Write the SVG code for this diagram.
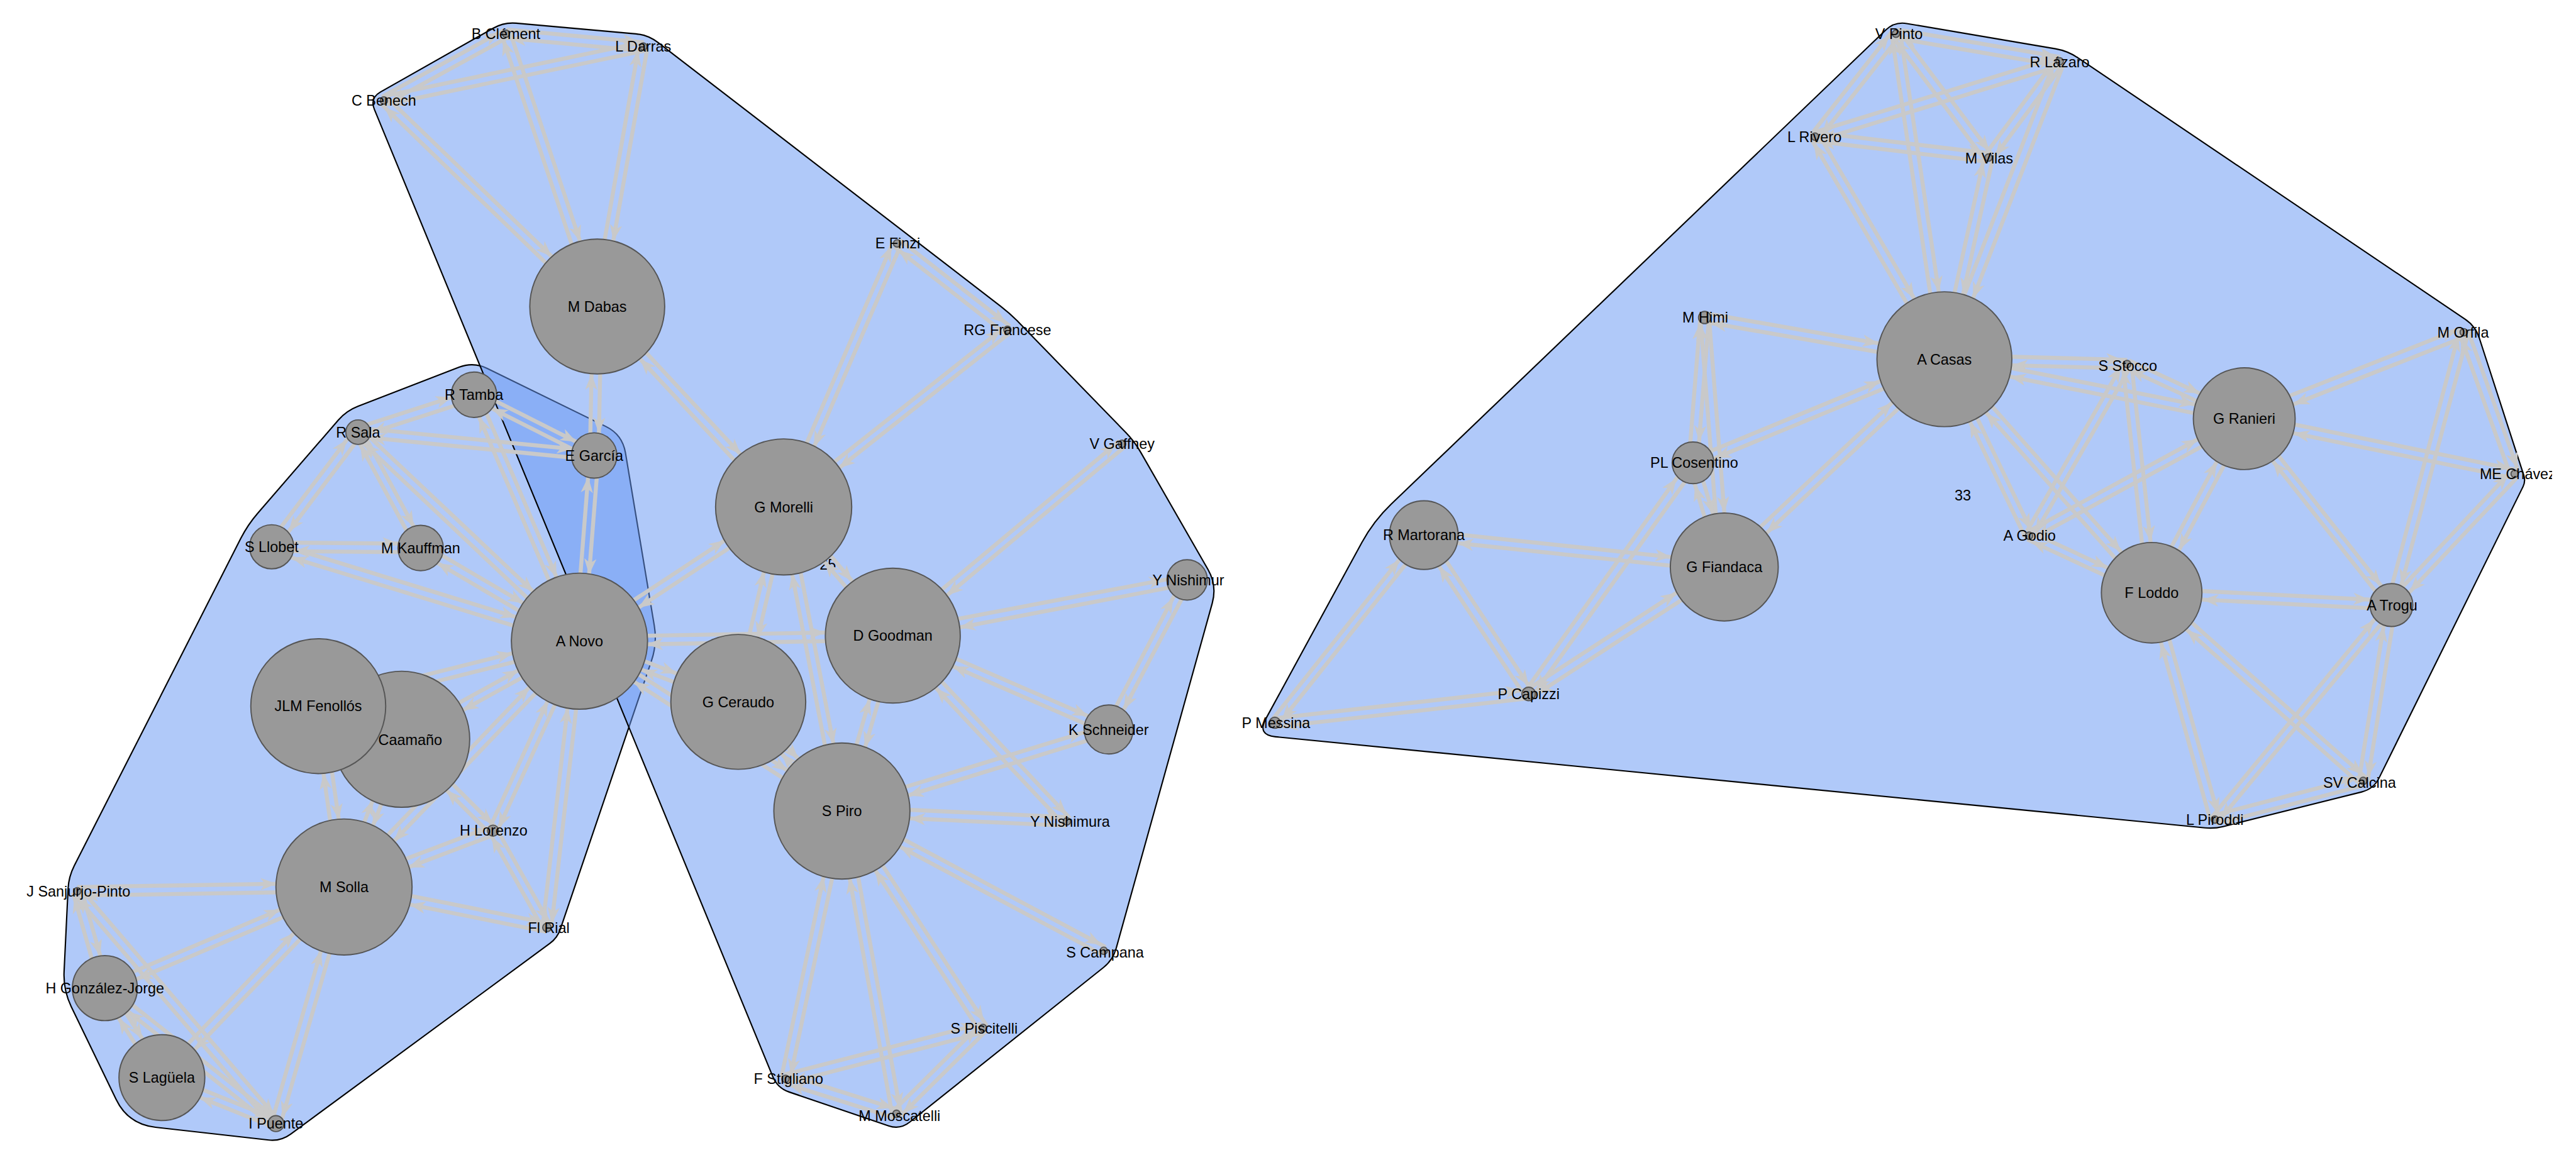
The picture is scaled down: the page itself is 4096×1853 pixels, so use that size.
<svg xmlns="http://www.w3.org/2000/svg" width="4096" height="1853" viewBox="0 0 4096 1853">
<style>
.hull{fill:rgb(103,151,243);fill-opacity:0.52;stroke:#000;stroke-width:2.2;stroke-linejoin:round}
.e path{stroke:#c9c9c9;stroke-width:6.5;fill:none}
.ah{fill:#c9c9c9;stroke:none}
.node circle{fill:#999999;stroke:#555555;stroke-width:2}
text{font-family:"Liberation Sans",Arial,sans-serif;font-size:24px;fill:#000;text-anchor:middle}
</style>
<defs>
<marker id="a8" markerUnits="userSpaceOnUse" orient="auto" refX="8" refY="0" markerWidth="1" markerHeight="1" overflow="visible"><path class="ah" d="M0,0 L-26,-10 L-19,0 L-26,10 Z"/></marker>
<marker id="a10" markerUnits="userSpaceOnUse" orient="auto" refX="11" refY="0" markerWidth="1" markerHeight="1" overflow="visible"><path class="ah" d="M0,0 L-26,-10 L-19,0 L-26,10 Z"/></marker>
<marker id="a13" markerUnits="userSpaceOnUse" orient="auto" refX="13" refY="0" markerWidth="1" markerHeight="1" overflow="visible"><path class="ah" d="M0,0 L-26,-10 L-19,0 L-26,10 Z"/></marker>
<marker id="a20" markerUnits="userSpaceOnUse" orient="auto" refX="20" refY="0" markerWidth="1" markerHeight="1" overflow="visible"><path class="ah" d="M0,0 L-26,-10 L-19,0 L-26,10 Z"/></marker>
<marker id="a35" markerUnits="userSpaceOnUse" orient="auto" refX="36" refY="0" markerWidth="1" markerHeight="1" overflow="visible"><path class="ah" d="M0,0 L-26,-10 L-19,0 L-26,10 Z"/></marker>
<marker id="a40" markerUnits="userSpaceOnUse" orient="auto" refX="40" refY="0" markerWidth="1" markerHeight="1" overflow="visible"><path class="ah" d="M0,0 L-26,-10 L-19,0 L-26,10 Z"/></marker>
<marker id="a53" markerUnits="userSpaceOnUse" orient="auto" refX="53" refY="0" markerWidth="1" markerHeight="1" overflow="visible"><path class="ah" d="M0,0 L-26,-10 L-19,0 L-26,10 Z"/></marker>
<marker id="a56" markerUnits="userSpaceOnUse" orient="auto" refX="56" refY="0" markerWidth="1" markerHeight="1" overflow="visible"><path class="ah" d="M0,0 L-26,-10 L-19,0 L-26,10 Z"/></marker>
<marker id="a70" markerUnits="userSpaceOnUse" orient="auto" refX="70" refY="0" markerWidth="1" markerHeight="1" overflow="visible"><path class="ah" d="M0,0 L-26,-10 L-19,0 L-26,10 Z"/></marker>
<marker id="a83" markerUnits="userSpaceOnUse" orient="auto" refX="83" refY="0" markerWidth="1" markerHeight="1" overflow="visible"><path class="ah" d="M0,0 L-26,-10 L-19,0 L-26,10 Z"/></marker>
<marker id="a88" markerUnits="userSpaceOnUse" orient="auto" refX="88" refY="0" markerWidth="1" markerHeight="1" overflow="visible"><path class="ah" d="M0,0 L-26,-10 L-19,0 L-26,10 Z"/></marker>
<marker id="a110" markerUnits="userSpaceOnUse" orient="auto" refX="110" refY="0" markerWidth="1" markerHeight="1" overflow="visible"><path class="ah" d="M0,0 L-26,-10 L-19,0 L-26,10 Z"/></marker>
<clipPath id="clipR"><rect x="0" y="0" width="4162" height="1899"/></clipPath>
</defs>
<rect x="0" y="0" width="4096" height="1853" fill="#ffffff"/>
<g transform="scale(0.975)">
<g id="hulls">
<path id="hull-lower-left" class="hull" d="M 794.5,601 L 988.1,695.8 Q 1015,709 1020,738.6 L 1067,1020.4 Q 1072,1050 1062.3,1078.4 L 913.8,1515.8 Q 909,1530 896.9,1538.9 L 474.1,1850.1 Q 458,1862 438.1,1859.8 L 253.7,1839 Q 209,1834 189.4,1793.5 L 116.1,1642 Q 103,1615 104.5,1585 L 111,1450 Q 112,1430 121.1,1412.2 L 392.7,878.3 Q 404,856 420.4,837.1 L 551.9,685.1 Q 565,670 583.7,662.8 L 748.7,599 Q 772,590 794.5,601 Z"/>
<path id="hull-middle" class="hull" d="M 841.9,37.8 L 1037.1,55.2 Q 1057,57 1072.8,69.2 L 1632.2,499.8 Q 1648,512 1661.9,526.3 L 1836.1,705.7 Q 1850,720 1860,737.3 L 1970,929 Q 1985,955 1977,984 L 1820.4,1546.7 Q 1815,1566 1799.4,1578.5 L 1483.6,1830.5 Q 1468,1843 1449.1,1836.6 L 1286.9,1781.4 Q 1268,1775 1260.4,1756.5 L 610.6,178.5 Q 603,160 620.4,150.1 L 804.6,45.9 Q 822,36 841.9,37.8 Z"/>
<path id="hull-right" class="hull" d="M 3109.7,38.4 L 3352.3,79.6 Q 3372,83 3388.6,94.2 L 4020.4,520.8 Q 4037,532 4043.2,551 L 4115.9,775.5 Q 4119,785 4114.6,794 L 3879.9,1269.1 Q 3871,1287 3851.6,1291.9 L 3625.6,1348.4 Q 3611,1352 3596.1,1350.5 L 2079.9,1201.9 Q 2050,1199 2064.3,1172.7 L 2220.9,885.1 Q 2240,850 2268.9,822.3 L 3075.6,48.8 Q 3090,35 3109.7,38.4 Z"/>
</g>
<g id="cluster-labels">
<text x="1350" y="929">25</text>
<text x="3201" y="816">33</text>
</g>
<g id="connectors" class="e">
<path d="M826,48 L1050,69" marker-end="url(#a8)"/><path d="M1048,83 L824,62" marker-end="url(#a8)"/>
<path d="M623,158 L822,49" marker-end="url(#a8)"/><path d="M828,61 L629,170" marker-end="url(#a8)"/>
<path d="M625,157 L1048,69" marker-end="url(#a8)"/><path d="M1050,83 L627,171" marker-end="url(#a8)"/>
<path d="M631,159 L979,495" marker-end="url(#a110)"/><path d="M969,505 L621,169" marker-end="url(#a8)"/>
<path d="M832,53 L981,498" marker-end="url(#a110)"/><path d="M967,502 L818,57" marker-end="url(#a8)"/>
<path d="M1056,77 L981,501" marker-end="url(#a110)"/><path d="M967,499 L1042,75" marker-end="url(#a8)"/>
<path d="M981,500 L976,743" marker-end="url(#a35)"/><path d="M962,743 L967,500" marker-end="url(#a110)"/>
<path d="M979,495 L1283,822" marker-end="url(#a110)"/><path d="M1273,832 L969,505" marker-end="url(#a110)"/>
<path d="M775,651 L586,712" marker-end="url(#a20)"/><path d="M582,698 L771,637" marker-end="url(#a35)"/>
<path d="M776,638 L972,737" marker-end="url(#a35)"/><path d="M966,749 L770,650" marker-end="url(#a35)"/>
<path d="M585,698 L970,736" marker-end="url(#a35)"/><path d="M968,750 L583,712" marker-end="url(#a20)"/>
<path d="M590,709 L449,896" marker-end="url(#a35)"/><path d="M437,888 L578,701" marker-end="url(#a20)"/>
<path d="M590,702 L692,891" marker-end="url(#a35)"/><path d="M680,897 L578,708" marker-end="url(#a20)"/>
<path d="M589,700 L950,1041" marker-end="url(#a110)"/><path d="M940,1051 L579,710" marker-end="url(#a20)"/>
<path d="M779,641 L951,1043" marker-end="url(#a110)"/><path d="M939,1049 L767,647" marker-end="url(#a35)"/>
<path d="M443,885 L686,887" marker-end="url(#a35)"/><path d="M686,901 L443,899" marker-end="url(#a35)"/>
<path d="M445,885 L947,1039" marker-end="url(#a110)"/><path d="M943,1053 L441,899" marker-end="url(#a35)"/>
<path d="M690,888 L949,1040" marker-end="url(#a110)"/><path d="M941,1052 L682,900" marker-end="url(#a35)"/>
<path d="M976,744 L952,1047" marker-end="url(#a110)"/><path d="M938,1045 L962,742" marker-end="url(#a35)"/>
<path d="M941,1040 L1274,821" marker-end="url(#a110)"/><path d="M1282,833 L949,1052" marker-end="url(#a110)"/>
<path d="M945,1039 L1456,1030" marker-end="url(#a110)"/><path d="M1456,1044 L945,1053" marker-end="url(#a110)"/>
<path d="M947,1039 L1206,1138" marker-end="url(#a110)"/><path d="M1202,1152 L943,1053" marker-end="url(#a110)"/>
<path d="M949,1040 L1377,1317" marker-end="url(#a110)"/><path d="M1369,1329 L941,1052" marker-end="url(#a110)"/>
<path d="M948,1052 L658,1212" marker-end="url(#a110)"/><path d="M652,1200 L942,1040" marker-end="url(#a110)"/>
<path d="M947,1053 L521,1159" marker-end="url(#a110)"/><path d="M517,1145 L943,1039" marker-end="url(#a110)"/>
<path d="M950,1051 L566,1452" marker-end="url(#a110)"/><path d="M556,1442 L940,1041" marker-end="url(#a110)"/>
<path d="M951,1049 L810,1358" marker-end="url(#a8)"/><path d="M798,1352 L939,1043" marker-end="url(#a110)"/>
<path d="M952,1047 L899,1514" marker-end="url(#a8)"/><path d="M885,1512 L938,1045" marker-end="url(#a110)"/>
<path d="M526,1151 L568,1446" marker-end="url(#a110)"/><path d="M554,1448 L512,1153" marker-end="url(#a110)"/>
<path d="M662,1209 L568,1450" marker-end="url(#a110)"/><path d="M554,1444 L648,1203" marker-end="url(#a110)"/>
<path d="M660,1201 L809,1350" marker-end="url(#a8)"/><path d="M799,1360 L650,1211" marker-end="url(#a110)"/>
<path d="M559,1440 L802,1348" marker-end="url(#a8)"/><path d="M806,1362 L563,1454" marker-end="url(#a110)"/>
<path d="M562,1440 L893,1506" marker-end="url(#a8)"/><path d="M891,1520 L560,1454" marker-end="url(#a110)"/>
<path d="M810,1352 L898,1510" marker-end="url(#a8)"/><path d="M886,1516 L798,1358" marker-end="url(#a8)"/>
<path d="M561,1454 L126,1461" marker-end="url(#a8)"/><path d="M126,1447 L561,1440" marker-end="url(#a110)"/>
<path d="M564,1453 L174,1618" marker-end="url(#a53)"/><path d="M168,1606 L558,1441" marker-end="url(#a110)"/>
<path d="M566,1452 L269,1763" marker-end="url(#a70)"/><path d="M259,1753 L556,1442" marker-end="url(#a110)"/>
<path d="M568,1449 L457,1835" marker-end="url(#a13)"/><path d="M443,1831 L554,1445" marker-end="url(#a110)"/>
<path d="M133,1452 L178,1610" marker-end="url(#a53)"/><path d="M164,1614 L119,1456" marker-end="url(#a8)"/>
<path d="M131,1449 L455,1828" marker-end="url(#a13)"/><path d="M445,1838 L121,1459" marker-end="url(#a8)"/>
<path d="M177,1608 L270,1754" marker-end="url(#a70)"/><path d="M258,1762 L165,1616" marker-end="url(#a53)"/>
<path d="M175,1607 L454,1828" marker-end="url(#a13)"/><path d="M446,1838 L167,1617" marker-end="url(#a53)"/>
<path d="M267,1752 L453,1827" marker-end="url(#a13)"/><path d="M447,1839 L261,1764" marker-end="url(#a70)"/>
<path d="M1272,824 L1457,394" marker-end="url(#a8)"/><path d="M1469,400 L1284,830" marker-end="url(#a110)"/>
<path d="M1274,822 L1639,533" marker-end="url(#a8)"/><path d="M1647,543 L1282,832" marker-end="url(#a110)"/>
<path d="M1467,391 L1647,532" marker-end="url(#a8)"/><path d="M1639,544 L1459,403" marker-end="url(#a8)"/>
<path d="M1285,829 L1211,1147" marker-end="url(#a110)"/><path d="M1197,1143 L1271,825" marker-end="url(#a110)"/>
<path d="M1285,826 L1380,1322" marker-end="url(#a110)"/><path d="M1366,1324 L1271,828" marker-end="url(#a110)"/>
<path d="M1283,822 L1461,1032" marker-end="url(#a110)"/><path d="M1451,1042 L1273,832" marker-end="url(#a110)"/>
<path d="M1452,1032 L1826,719" marker-end="url(#a8)"/><path d="M1834,729 L1460,1042" marker-end="url(#a110)"/>
<path d="M1455,1030 L1935,939" marker-end="url(#a35)"/><path d="M1937,953 L1457,1044" marker-end="url(#a110)"/>
<path d="M1459,1031 L1811,1184" marker-end="url(#a40)"/><path d="M1805,1196 L1453,1043" marker-end="url(#a110)"/>
<path d="M1463,1039 L1380,1325" marker-end="url(#a110)"/><path d="M1366,1321 L1449,1035" marker-end="url(#a110)"/>
<path d="M1461,1032 L1745,1335" marker-end="url(#a8)"/><path d="M1735,1345 L1451,1042" marker-end="url(#a110)"/>
<path d="M1942,949 L1814,1193" marker-end="url(#a40)"/><path d="M1802,1187 L1930,943" marker-end="url(#a35)"/>
<path d="M1810,1197 L1375,1330" marker-end="url(#a110)"/><path d="M1371,1316 L1806,1183" marker-end="url(#a40)"/>
<path d="M1373,1316 L1740,1333" marker-end="url(#a8)"/><path d="M1740,1347 L1373,1330" marker-end="url(#a110)"/>
<path d="M1376,1317 L1803,1545" marker-end="url(#a8)"/><path d="M1797,1557 L1370,1329" marker-end="url(#a110)"/>
<path d="M1379,1319 L1609,1673" marker-end="url(#a8)"/><path d="M1597,1681 L1367,1327" marker-end="url(#a110)"/>
<path d="M1380,1322 L1469,1816" marker-end="url(#a8)"/><path d="M1455,1818 L1366,1324" marker-end="url(#a110)"/>
<path d="M1380,1324 L1288,1761" marker-end="url(#a8)"/><path d="M1274,1759 L1366,1322" marker-end="url(#a110)"/>
<path d="M1368,1328 L1199,1150" marker-end="url(#a110)"/><path d="M1209,1140 L1378,1318" marker-end="url(#a110)"/>
<path d="M1279,1753 L1601,1670" marker-end="url(#a8)"/><path d="M1605,1684 L1283,1767" marker-end="url(#a8)"/>
<path d="M1283,1753 L1464,1810" marker-end="url(#a8)"/><path d="M1460,1824 L1279,1767" marker-end="url(#a8)"/>
<path d="M1608,1682 L1467,1822" marker-end="url(#a8)"/><path d="M1457,1812 L1598,1672" marker-end="url(#a8)"/>
<path d="M3093,48 L3360,93" marker-end="url(#a8)"/><path d="M3358,107 L3091,62" marker-end="url(#a8)"/>
<path d="M3098,59 L2966,227" marker-end="url(#a8)"/><path d="M2954,219 L3086,51" marker-end="url(#a8)"/>
<path d="M3098,51 L3249,253" marker-end="url(#a8)"/><path d="M3237,261 L3086,59" marker-end="url(#a8)"/>
<path d="M3099,54 L3178,585" marker-end="url(#a110)"/><path d="M3164,587 L3085,56" marker-end="url(#a8)"/>
<path d="M3361,107 L2962,230" marker-end="url(#a8)"/><path d="M2958,216 L3357,93" marker-end="url(#a8)"/>
<path d="M3365,104 L3249,261" marker-end="url(#a8)"/><path d="M3237,253 L3353,96" marker-end="url(#a8)"/>
<path d="M3366,103 L3178,589" marker-end="url(#a110)"/><path d="M3164,583 L3352,97" marker-end="url(#a8)"/>
<path d="M2961,216 L3244,250" marker-end="url(#a8)"/><path d="M3242,264 L2959,230" marker-end="url(#a8)"/>
<path d="M2966,219 L3177,582" marker-end="url(#a110)"/><path d="M3165,590 L2954,227" marker-end="url(#a8)"/>
<path d="M3250,258 L3178,587" marker-end="url(#a110)"/><path d="M3164,585 L3236,256" marker-end="url(#a8)"/>
<path d="M2781,511 L3172,579" marker-end="url(#a110)"/><path d="M3170,593 L2779,525" marker-end="url(#a10)"/>
<path d="M2787,519 L2768,756" marker-end="url(#a35)"/><path d="M2754,754 L2773,517" marker-end="url(#a10)"/>
<path d="M2787,517 L2819,924" marker-end="url(#a88)"/><path d="M2805,926 L2773,519" marker-end="url(#a10)"/>
<path d="M2758,749 L3168,580" marker-end="url(#a110)"/><path d="M3174,592 L2764,761" marker-end="url(#a35)"/>
<path d="M2768,753 L2819,923" marker-end="url(#a88)"/><path d="M2805,927 L2754,757" marker-end="url(#a35)"/>
<path d="M2807,920 L3166,581" marker-end="url(#a110)"/><path d="M3176,591 L2817,930" marker-end="url(#a88)"/>
<path d="M2811,932 L2321,880" marker-end="url(#a56)"/><path d="M2323,866 L2813,918" marker-end="url(#a88)"/>
<path d="M2767,759 L2499,1136" marker-end="url(#a10)"/><path d="M2487,1128 L2755,751" marker-end="url(#a35)"/>
<path d="M2816,931 L2497,1138" marker-end="url(#a10)"/><path d="M2489,1126 L2808,919" marker-end="url(#a88)"/>
<path d="M2328,869 L2499,1128" marker-end="url(#a10)"/><path d="M2487,1136 L2316,877" marker-end="url(#a56)"/>
<path d="M2327,877 L2084,1183" marker-end="url(#a10)"/><path d="M2074,1175 L2317,869" marker-end="url(#a56)"/>
<path d="M2078,1172 L2492,1125" marker-end="url(#a10)"/><path d="M2494,1139 L2080,1186" marker-end="url(#a10)"/>
<path d="M3171,579 L3469,587" marker-end="url(#a8)"/><path d="M3469,601 L3171,593" marker-end="url(#a110)"/>
<path d="M3172,579 L3661,676" marker-end="url(#a83)"/><path d="M3659,690 L3170,593" marker-end="url(#a110)"/>
<path d="M3177,583 L3315,871" marker-end="url(#a8)"/><path d="M3303,877 L3165,589" marker-end="url(#a110)"/>
<path d="M3176,581 L3514,962" marker-end="url(#a83)"/><path d="M3504,972 L3166,591" marker-end="url(#a110)"/>
<path d="M3472,588 L3663,677" marker-end="url(#a83)"/><path d="M3657,689 L3466,600" marker-end="url(#a8)"/>
<path d="M3475,597 L3315,877" marker-end="url(#a8)"/><path d="M3303,871 L3463,591" marker-end="url(#a8)"/>
<path d="M3476,593 L3516,966" marker-end="url(#a83)"/><path d="M3502,968 L3462,595" marker-end="url(#a8)"/>
<path d="M3663,689 L3312,880" marker-end="url(#a8)"/><path d="M3306,868 L3657,677" marker-end="url(#a83)"/>
<path d="M3666,686 L3515,970" marker-end="url(#a83)"/><path d="M3503,964 L3654,680" marker-end="url(#a83)"/>
<path d="M3312,868 L3512,961" marker-end="url(#a83)"/><path d="M3506,973 L3306,880" marker-end="url(#a8)"/>
<path d="M3657,676 L4015,535" marker-end="url(#a8)"/><path d="M4021,549 L3663,690" marker-end="url(#a83)"/>
<path d="M3661,676 L4102,766" marker-end="url(#a8)"/><path d="M4100,780 L3659,690" marker-end="url(#a83)"/>
<path d="M3665,679 L3905,983" marker-end="url(#a35)"/><path d="M3895,991 L3655,687" marker-end="url(#a83)"/>
<path d="M4025,540 L4108,771" marker-end="url(#a8)"/><path d="M4094,775 L4011,544" marker-end="url(#a8)"/>
<path d="M4025,544 L3907,989" marker-end="url(#a35)"/><path d="M3893,985 L4011,540" marker-end="url(#a8)"/>
<path d="M4106,778 L3905,992" marker-end="url(#a35)"/><path d="M3895,982 L4096,768" marker-end="url(#a8)"/>
<path d="M3509,960 L3900,980" marker-end="url(#a35)"/><path d="M3900,994 L3509,974" marker-end="url(#a83)"/>
<path d="M3516,965 L3619,1335" marker-end="url(#a8)"/><path d="M3605,1339 L3502,969" marker-end="url(#a83)"/>
<path d="M3514,962 L3859,1269" marker-end="url(#a8)"/><path d="M3849,1279 L3504,972" marker-end="url(#a83)"/>
<path d="M3905,991 L3617,1341" marker-end="url(#a8)"/><path d="M3607,1333 L3895,983" marker-end="url(#a35)"/>
<path d="M3907,988 L3861,1275" marker-end="url(#a8)"/><path d="M3847,1273 L3893,986" marker-end="url(#a35)"/>
<path d="M3610,1330 L3852,1267" marker-end="url(#a8)"/><path d="M3856,1281 L3614,1344" marker-end="url(#a8)"/>
</g>
<g id="nodes">
<g id="n-bclement" class="node"><circle cx="825" cy="55" r="6"/><text x="825" y="63.5">B Clément</text></g>
<g id="n-ldarras" class="node"><circle cx="1049" cy="76" r="6"/><text x="1049" y="84.5">L Darras</text></g>
<g id="n-cbenech" class="node"><circle cx="626" cy="164" r="6"/><text x="626" y="172.5">C Benech</text></g>
<g id="n-mdabas" class="node"><circle cx="974" cy="500" r="110"/><text x="974" y="508.5">M Dabas</text></g>
<g id="n-rtamba" class="node"><circle cx="773" cy="644" r="37"/><text x="773" y="652.5">R Tamba</text></g>
<g id="n-rsala" class="node"><circle cx="584" cy="705" r="20"/><text x="584" y="713.5">R Sala</text></g>
<g id="n-egarcia" class="node"><circle cx="969" cy="743" r="37"/><text x="969" y="751.5">E García</text></g>
<g id="n-sllobet" class="node"><circle cx="443" cy="892" r="36"/><text x="443" y="900.5">S Llobet</text></g>
<g id="n-mkauffman" class="node"><circle cx="686" cy="894" r="37"/><text x="686" y="902.5">M Kauffman</text></g>
<g id="n-anovo" class="node"><circle cx="945" cy="1046" r="111"/><text x="945" y="1054.5">A Novo</text></g>
<g id="n-caamano" class="node"><circle cx="655" cy="1206" r="111"/><text x="617" y="1215" style="text-anchor:start">Caamaño</text></g>
<g id="n-jlmfenollos" class="node"><circle cx="519" cy="1152" r="110"/><text x="519" y="1160.5">JLM Fenollós</text></g>
<g id="n-msolla" class="node"><circle cx="561" cy="1447" r="111"/><text x="561" y="1455.5">M Solla</text></g>
<g id="n-hlorenzo" class="node"><circle cx="804" cy="1355" r="9"/><text x="805" y="1363.5">H Lorenzo</text></g>
<g id="n-flrial" class="node"><circle cx="892" cy="1513" r="7"/><text x="895" y="1522">Fl Rial</text></g>
<g id="n-jsanjurjo" class="node"><circle cx="126" cy="1454" r="6"/><text x="128" y="1462.5">J Sanjurjo-Pinto</text></g>
<g id="n-hgonzalez" class="node"><circle cx="171" cy="1612" r="53"/><text x="171" y="1620.5">H González-Jorge</text></g>
<g id="n-slaguela" class="node"><circle cx="264" cy="1758" r="70"/><text x="264" y="1766.5">S Lagüela</text></g>
<g id="n-ipuente" class="node"><circle cx="450" cy="1833" r="13"/><text x="450" y="1841.5">I Puente</text></g>
<g id="n-gmorelli" class="node"><circle cx="1278" cy="827" r="111"/><text x="1278" y="835.5">G Morelli</text></g>
<g id="n-efinzi" class="node"><circle cx="1463" cy="397" r="6"/><text x="1464" y="405.5">E Finzi</text></g>
<g id="n-rgfrancese" class="node"><circle cx="1643" cy="538" r="6"/><text x="1643" y="546.5">RG Francese</text></g>
<g id="n-vgaffney" class="node"><circle cx="1830" cy="724" r="6"/><text x="1830" y="732.5">V Gaffney</text></g>
<g id="n-ynishimur" class="node"><circle cx="1936" cy="946" r="33"/><text x="1938" y="954.5">Y Nishimur</text></g>
<g id="n-dgoodman" class="node"><circle cx="1456" cy="1037" r="110"/><text x="1456" y="1045.5">D Goodman</text></g>
<g id="n-gceraudo" class="node"><circle cx="1204" cy="1145" r="110"/><text x="1204" y="1153.5">G Ceraudo</text></g>
<g id="n-spiro" class="node"><circle cx="1373" cy="1323" r="111"/><text x="1373" y="1331.5">S Piro</text></g>
<g id="n-kschneider" class="node"><circle cx="1808" cy="1190" r="40"/><text x="1808" y="1198.5">K Schneider</text></g>
<g id="n-ynishimura" class="node"><circle cx="1740" cy="1340" r="6"/><text x="1745" y="1349">Y Nishimura</text></g>
<g id="n-scampana" class="node"><circle cx="1800" cy="1551" r="6"/><text x="1802" y="1562">S Campana</text></g>
<g id="n-spiscitelli" class="node"><circle cx="1603" cy="1677" r="6"/><text x="1605" y="1686">S Piscitelli</text></g>
<g id="n-fstigliano" class="node"><circle cx="1281" cy="1760" r="6"/><text x="1286" y="1768.5">F Stigliano</text></g>
<g id="n-mmoscatelli" class="node"><circle cx="1462" cy="1817" r="6"/><text x="1467" y="1829">M Moscatelli</text></g>
<g id="n-vpinto" class="node"><circle cx="3092" cy="55" r="6"/><text x="3097" y="64">V Pinto</text></g>
<g id="n-rlazaro" class="node"><circle cx="3359" cy="100" r="6"/><text x="3359" y="110">R Lázaro</text></g>
<g id="n-lrivero" class="node"><circle cx="2960" cy="223" r="6"/><text x="2959" y="232">L Rivero</text></g>
<g id="n-mvilas" class="node"><circle cx="3243" cy="257" r="6"/><text x="3244" y="267">M Vilas</text></g>
<g id="n-mhimi" class="node"><circle cx="2780" cy="518" r="10"/><text x="2781" y="526.5">M Himi</text></g>
<g id="n-acasas" class="node"><circle cx="3171" cy="586" r="110"/><text x="3171" y="594.5">A Casas</text></g>
<g id="n-sstocco" class="node"><circle cx="3469" cy="594" r="6"/><text x="3470" y="605">S Stocco</text></g>
<g id="n-granieri" class="node"><circle cx="3660" cy="683" r="83"/><text x="3660" y="691.5">G Ranieri</text></g>
<g id="n-morfila" class="node"><circle cx="4018" cy="542" r="6"/><text x="4017" y="550.5">M Orfila</text></g>
<g id="n-mechavez" class="node"><circle cx="4101" cy="773" r="6"/><text x="4044" y="781.5" style="text-anchor:start" clip-path="url(#clipR)">ME Chávez</text></g>
<g id="n-agodio" class="node"><circle cx="3309" cy="874" r="6"/><text x="3310" y="882.5">A Godio</text></g>
<g id="n-floddo" class="node"><circle cx="3509" cy="967" r="82"/><text x="3509" y="975.5">F Loddo</text></g>
<g id="n-atrogu" class="node"><circle cx="3900" cy="987" r="35"/><text x="3901" y="996">A Trogu</text></g>
<g id="n-svcalcina" class="node"><circle cx="3854" cy="1274" r="6"/><text x="3848" y="1285">SV Calcina</text></g>
<g id="n-lpiroddi" class="node"><circle cx="3612" cy="1337" r="6"/><text x="3612" y="1346">L Piroddi</text></g>
<g id="n-rmartorana" class="node"><circle cx="2322" cy="873" r="56"/><text x="2322" y="881.5">R Martorana</text></g>
<g id="n-plcosentino" class="node"><circle cx="2761" cy="755" r="34"/><text x="2763" y="763.5">PL Cosentino</text></g>
<g id="n-gfiandaca" class="node"><circle cx="2812" cy="925" r="88"/><text x="2812" y="933.5">G Fiandaca</text></g>
<g id="n-pcapizzi" class="node"><circle cx="2493" cy="1132" r="11"/><text x="2493" y="1140.5">P Capizzi</text></g>
<g id="n-pmessina" class="node"><circle cx="2079" cy="1179" r="9"/><text x="2081" y="1187.5">P Messina</text></g>
</g>
</g>
</svg>
